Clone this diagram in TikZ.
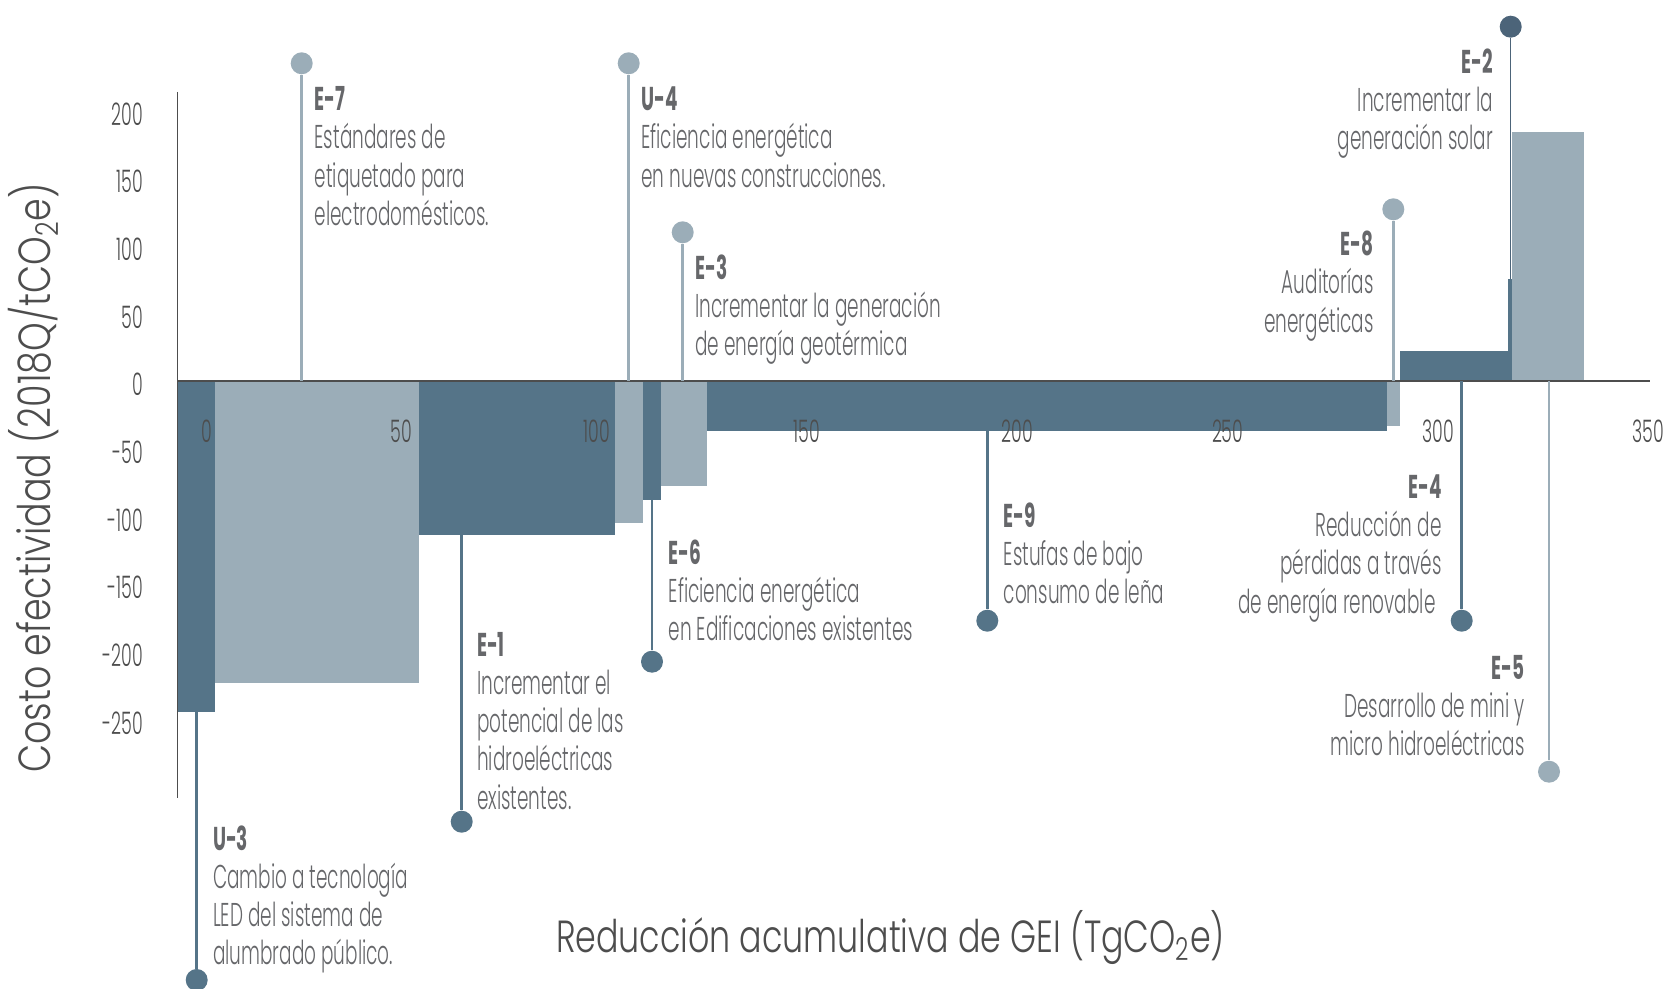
\documentclass[tikz,border=0pt]{standalone}
\usepackage{fontspec}
\setmainfont{Poppins Light}[FakeStretch=0.56,BoldFont=Poppins Bold]
\newfontfamily\titlefont{Poppins Light}[FakeStretch=0.74]
\newfontfamily\ytitlefont{Poppins Light}[FakeStretch=0.81]

\definecolor{bardark}{HTML}{557488}
\definecolor{barlight}{HTML}{9BADB8}
\definecolor{dotnavy}{HTML}{4C6479}
\definecolor{txtgray}{HTML}{66676A}
\definecolor{axisgray}{HTML}{4D4D4D}

\begin{document}
\begin{tikzpicture}[x=0.5pt,y=-0.5pt,
    lbl/.style={align=left,anchor=base west,inner sep=0pt,text=txtgray,font=\fontsize{16.5}{19.15}\selectfont},
    lblr/.style={lbl,align=right,anchor=base east},
    tick/.style={inner sep=0pt,text=axisgray,font=\fontsize{15.5}{18}\selectfont},
    axtitle/.style={inner sep=0pt,text=axisgray,font=\titlefont\fontsize{22.5}{26}\selectfont},
    dotlight/.style={circle,fill=barlight,inner sep=0pt,minimum size=11pt},
    dotdark/.style={circle,fill=bardark,inner sep=0pt,minimum size=11pt},
    stemlight/.style={draw=barlight,line width=1.35pt},
    stemdark/.style={draw=bardark,line width=1.35pt}]
    \useasboundingbox (0,0) rectangle (1671,989);

    % bars
    \fill[bardark] (177.3,381) rectangle (215,711.7);
    \fill[barlight] (215,381) rectangle (419,682.7);
    \fill[bardark] (419,381) rectangle (615.3,535);
    \fill[barlight] (615.3,381) rectangle (643,522.7);
    \fill[bardark] (643,381) rectangle (661,500);
    \fill[barlight] (661,381) rectangle (707,485.7);
    \fill[bardark] (707,381) rectangle (1387,431);
    \fill[barlight] (1387,381) rectangle (1400,425.7);
    \fill[bardark] (1400,351) rectangle (1508.3,381);
    \fill[bardark] (1508.3,279) rectangle (1512,381);
    \fill[barlight] (1512.3,131.7) rectangle (1584.3,381);

    % axes
    \coordinate (ytop) at (177.3,92);
    \coordinate (ybot) at (177.3,798.3);
    \coordinate (xend) at (1650,381);
    \draw[axisgray, line width=0.8pt] (ytop) -- (ybot);
    \draw[axisgray, line width=1pt] (177.3,381) -- (xend);

    \node[tick,anchor=base east] at (143.3,125.2) (y200) {200};
    \node[tick,anchor=base east] at (143.3,192.9) (y150) {150};
    \node[tick,anchor=base east] at (143.3,260.5) (y100) {100};
    \node[tick,anchor=base east] at (143.3,328.2) (y50) {50};
    \node[tick,anchor=base east] at (143.3,395.8) (y0) {0};
    \node[tick,anchor=base east] at (143.3,463.5) (ym50) {-50};
    \node[tick,anchor=base east] at (143.3,531.1) (ym100) {-100};
    \node[tick,anchor=base east] at (143.3,598.8) (ym150) {-150};
    \node[tick,anchor=base east] at (143.3,666.4) (ym200) {-200};
    \node[tick,anchor=base east] at (143.3,734.1) (ym250) {-250};

    \node[tick,anchor=base] at (207,442.7) (x0) {0};
    \node[tick,anchor=base] at (401,442.7) (x50) {50};
    \node[tick,anchor=base] at (597,442.7) (x100) {100};
    \node[tick,anchor=base] at (807,442.7) (x150) {150};
    \node[tick,anchor=base] at (1017.5,442.7) (x200) {200};
    \node[tick,anchor=base] at (1227.7,442.7) (x250) {250};
    \node[tick,anchor=base] at (1438,442.7) (x300) {300};
    \node[tick,anchor=base] at (1648,442.7) (x350) {350};

    \node[axtitle,font=\ytitlefont\fontsize{22.5}{26}\selectfont,rotate=90,anchor=base] at (50,478) (ytitle) {Costo efectividad (2018Q/tCO\textsubscript{2}e)};
    \node[axtitle,anchor=base] at (890.5,952) (xtitle) {Reducción acumulativa de GEI (TgCO\textsubscript{2}e)};

    % stems above the axis
    \node[dotlight] at (301.7,63.3) (e7dot) {};
    \node[dotlight] at (628.7,63.3) (u4dot) {};
    \node[dotlight] at (682.7,232.3) (e3dot) {};
    \node[dotlight] at (1393.3,209.3) (e8dot) {};
    \node[circle,fill=dotnavy,inner sep=0pt,minimum size=11pt] at (1510.7,26.7) (e2dot) {};
    \coordinate (e7base) at (301.7,381);
    \coordinate (u4base) at (628.7,381);
    \coordinate (e3base) at (682.7,381);
    \coordinate (e8base) at (1393.3,381);
    \coordinate (e2base) at (1510.7,279);
    \draw[stemlight] (e7base) -- (e7dot);
    \draw[stemlight] (u4base) -- (u4dot);
    \draw[stemlight] (e3base) -- (e3dot);
    \draw[stemlight] (e8base) -- (e8dot);
    \draw[draw=dotnavy, line width=0.65pt] (e2base) -- (e2dot);

    % stems below the axis
    \node[dotdark] at (196.7,980) (u3dot) {};
    \node[dotdark] at (461.7,821.7) (e1dot) {};
    \node[dotdark] at (652,661.7) (e6dot) {};
    \node[dotdark] at (987.3,620.7) (e9dot) {};
    \node[dotdark] at (1461.7,620.7) (e4dot) {};
    \node[dotlight] at (1549,771.7) (e5dot) {};
    \coordinate (u3base) at (196.7,711.7);
    \coordinate (e1base) at (461.7,535);
    \coordinate (e6base) at (652,500);
    \coordinate (e9base) at (987.3,431);
    \coordinate (e4base) at (1461.7,381);
    \coordinate (e5base) at (1549,381);
    \draw[stemdark] (u3base) -- (u3dot);
    \draw[stemdark] (e1base) -- (e1dot);
    \draw[stemdark] (e6base) -- (e6dot);
    \draw[stemdark] (e9base) -- (e9dot);
    \draw[stemdark] (e4base) -- (e4dot);
    \draw[stemlight] (e5base) -- (e5dot);

    % labels (placed at the baseline of their last line)
    \node[lbl] at (314.3,225.6) (e7) {\textbf{E-7}\\Estándares de\\etiquetado para\\electrodomésticos.};
    \node[lbl] at (641,187.3) (u4) {\textbf{U-4}\\Eficiencia energética\\en nuevas construcciones.};
    \node[lbl] at (695,355.9) (e3) {\textbf{E-3}\\Incrementar la generación\\de energía geotérmica};
    \node[lbl] at (476.7,809.2) (e1) {\textbf{E-1}\\Incrementar el\\potencial de las\\hidroeléctricas\\existentes.};
    \node[lbl] at (668.3,640.9) (e6) {\textbf{E-6}\\Eficiencia energética\\en Edificaciones existentes};
    \node[lbl] at (1003.3,603.9) (e9) {\textbf{E-9}\\Estufas de bajo\\consumo de leña};
    \node[lbl] at (212.7,964.9) (u3) {\textbf{U-3}\\Cambio a tecnología\\LED del sistema de\\alumbrado público.};
    \node[lblr] at (1493.3,149.9) (e2) {\textbf{E-2}\\Incrementar la\\generación solar};
    \node[lblr] at (1374,332.3) (e8) {\textbf{E-8}\\Auditorías\\energéticas};
    \node[lblr] at (1442,613.2) (e4) {\textbf{E-4}\\Reducción de\\pérdidas a través\hspace*{3pt}\\de energía renovable\hspace*{3pt}};
    \node[lblr] at (1525,755.9) (e5) {\textbf{E-5}\\Desarrollo de mini y\\micro hidroeléctricas};
\end{tikzpicture}
\end{document}
